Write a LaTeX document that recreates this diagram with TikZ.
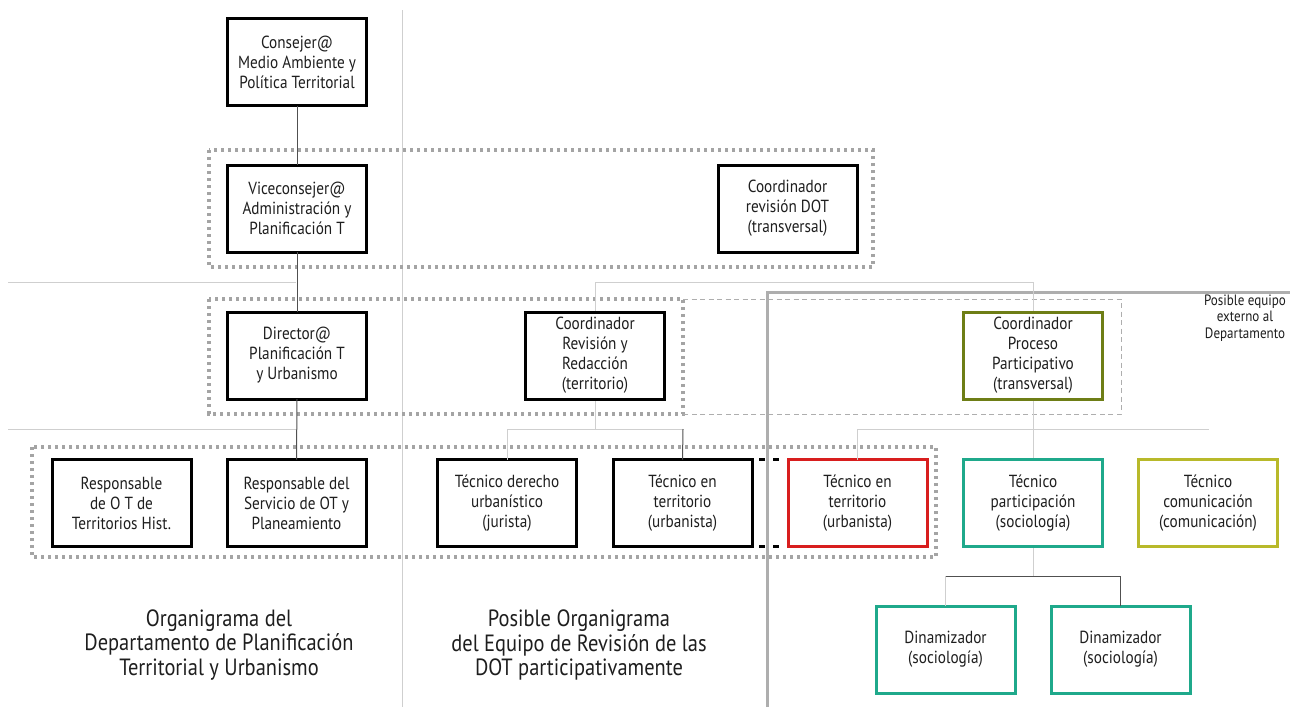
\documentclass[tikz,border=0pt]{standalone}
\usepackage{fontspec}
\setmainfont[FakeStretch=0.87]{PT Sans}
\definecolor{txt}{HTML}{1E1E1E}
\definecolor{colOlive}{HTML}{6E7E16}
\definecolor{colRed}{HTML}{D81E1E}
\definecolor{colTeal}{HTML}{1FA98B}
\definecolor{colYel}{HTML}{B8B92A}
\definecolor{colDot}{HTML}{A4A4A4}
\definecolor{colLight}{HTML}{CFCFCF}
\definecolor{colDark}{HTML}{505050}
\definecolor{colFrame}{HTML}{AEAEAE}
\begin{document}
\begin{tikzpicture}[x=1pt,y=-1pt,
  box/.style={draw=black,line width=3pt,fill=white,minimum width=139pt,minimum height=87pt,
    inner sep=0pt,outer sep=0pt,align=center,text=txt,font=\fontsize{17.5}{20}\selectfont},
  lightline/.style={draw=colLight,line width=1pt},
  darkline/.style={draw=colDark,line width=1pt},
  dotbox/.style={draw=colDot,line width=3.2pt,dash pattern=on 3.2pt off 3.8pt},
  thindash/.style={draw=colFrame,line width=1pt,dash pattern=on 5pt off 3.5pt},
  frameline/.style={draw=colFrame,line width=3pt},
  blackdash/.style={draw=black,line width=3pt,dash pattern=on 0pt off 7pt on 6pt off 8pt on 6pt off 7pt},
  caption/.style={align=center,text=txt,font=\fontsize{23.5}{24.5}\selectfont},
  note/.style={align=center,text=txt,font=\fontsize{15}{16.5}\selectfont}]
\fill[white] (0,0) rectangle (1290,707);
\useasboundingbox (0,0) rectangle (1290,707);

% background guide lines
\coordinate (divT) at (402,10);
\coordinate (divB) at (402,707);
\draw[lightline] (divT) -- (divB);
\coordinate (l1a) at (8,282);
\coordinate (l1b) at (296,282);
\draw[lightline] (l1a) -- (l1b);
\coordinate (l2a) at (8,429);
\coordinate (l2b) at (296,429);
\draw[lightline] (l2a) -- (l2b);

% grey frame of the external team
\coordinate (frB) at (767,707);
\coordinate (frC) at (767,292);
\coordinate (frR) at (1290,292);
\draw[frameline] (frB) -- (frC) -- (frR);

% dotted groups
\draw[dotbox] (209,150) rectangle (873,267);
\draw[dotbox] (209,299) rectangle (683,414);
\draw[dotbox] (32,447) rectangle (936,557);
\coordinate (dA) at (683,299);
\coordinate (dB) at (1121,299);
\coordinate (dC) at (1121,414);
\coordinate (dD) at (683,414);
\draw[thindash] (dA) -- (dB) -- (dC) -- (dD);

% long light connector (coordination -> participation)
\coordinate (k1) at (595,429);
\coordinate (k2) at (595,282);
\coordinate (k3) at (1033,282);
\coordinate (k4) at (1033,576);
\draw[lightline] (k1) -- (k2) -- (k3) -- (k4);

% boxes
\node[box] (cons) at (297,62) {Consejer@\\Medio Ambiente y\\Política Territorial};
\node[box] (vice) at (297,208.5) {Viceconsejer@\\Administración y\\Planificación T};
\node[box] (cdot) at (787.5,208.5) {Coordinador\\revisión DOT\\(transversal)};
\node[box] (dir) at (297,355.5) {Director@\\Planificación T\\y Urbanismo};
\node[box] (crr) at (595,355.5) {Coordinador\\Revisión y\\Redacción\\(territorio)};
\node[box,draw=colOlive] (cpp) at (1033,355.5) {Coordinador\\Proceso\\Participativo\\(transversal)};
\node[box] (resp1) at (121.5,503) {Responsable\\de O T de\\Territorios Hist.};
\node[box] (resp2) at (296.5,503) {Responsable del\\Servicio de OT y\\Planeamiento};
\node[box] (tder) at (507,503) {Técnico derecho\\urbanístico\\(jurista)};
\node[box] (tter) at (682.5,503) {Técnico en\\territorio\\(urbanista)};
\node[box,draw=colRed] (tred) at (857.5,503) {Técnico en\\territorio\\(urbanista)};
\node[box,draw=colTeal] (tpart) at (1033,503) {Técnico\\participación\\(sociología)};
\node[box,draw=colYel] (tcom) at (1208,503) {Técnico\\comunicación\\(comunicación)};
\node[box,draw=colTeal] (din1) at (945.5,649.5) {Dinamizador\\(sociología)};
\node[box,draw=colTeal] (din2) at (1120.5,649.5) {Dinamizador\\(sociología)};

% hierarchy connectors
\draw[darkline] (cons.south) -- (vice.north);
\draw[darkline] (vice.south) -- (dir.north);
\draw[darkline] (dir.south) -- (resp2.north);

\coordinate (f1) at (507,429);
\coordinate (f2) at (683,429);
\draw[lightline] (tder.north) -- (f1) -- (f2);
\draw[darkline] (f2) -- (tter.north);

\coordinate (f3) at (857.5,429);
\coordinate (f4) at (1209,429);
\draw[lightline] (tred.north) -- (f3) -- (f4);

\coordinate (f5) at (945.5,576);
\coordinate (f6) at (1120.5,576);
\draw[lightline] (din1.north) -- (f5);
\draw[darkline] (f5) -- (f6) -- (din2.north);

% dashed link between the two urbanists
\draw[blackdash] (tter.north east) -- (tred.north west);
\draw[blackdash] (tter.south east) -- (tred.south west);

% captions
\node[note] (ext) at (1245,318) {Posible equipo\\externo al\\Departamento};
\node[caption] (cap1) at (219,645) {Organigrama del\\Departamento de Planificación\\Territorial y Urbanismo};
\node[caption] (cap2) at (579,645) {Posible Organigrama\\del Equipo de Revisión de las\\DOT participativamente};
\end{tikzpicture}
\end{document}
